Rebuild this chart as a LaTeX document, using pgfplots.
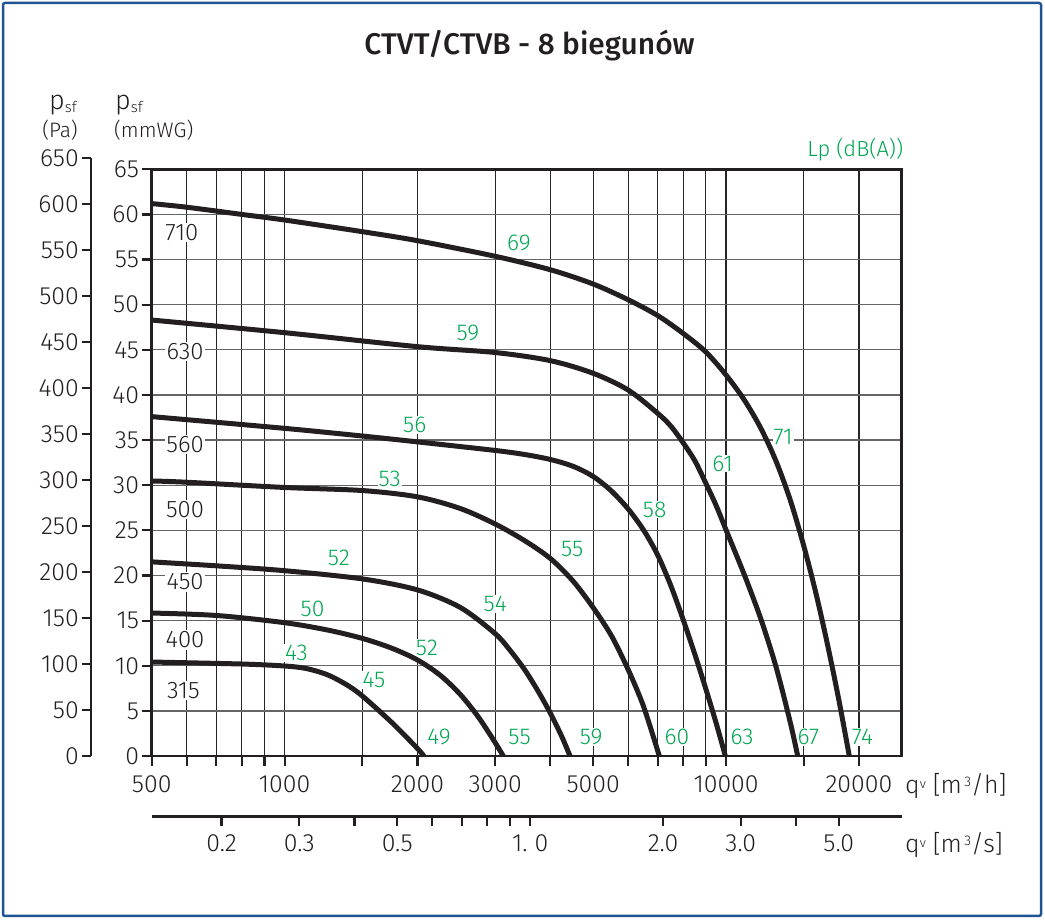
\documentclass[border=0pt]{standalone}
\usepackage{fontspec}
\setmainfont{Fira Sans Light}
\newfontfamily\titlefont{Fira Sans Medium}
\usepackage{pgfplots}
\pgfplotsset{compat=1.18}
\usepackage{pgfplotstable}
\definecolor{ink}{RGB}{35,31,32}
\definecolor{lpgreen}{RGB}{0,166,81}
\definecolor{frameblue}{RGB}{30,84,148}

% fan 315
\pgfplotstableread{
q p
500 10.41
800 10.19
1000 9.97
1120 9.69
1250 9.0
1381 7.9
1500 6.65
1750 3.7
2000 0.83
2067 0
}\dA
% fan 400
\pgfplotstableread{
q p
500 15.84
700 15.57
1000 14.77
1250 13.96
1500 13.03
1750 11.94
2000 10.64
2250 8.96
2500 6.82
2750 4.29
3000 1.47
3129 0
}\dB
% fan 450
\pgfplotstableread{
q p
500 21.51
700 21.07
1000 20.53
1500 19.62
2000 18.4
2500 16.46
3000 13.55
3250 11.64
3500 9.54
3750 7.2
4000 4.74
4250 2.1
4431 0
}\dC
% fan 500
\pgfplotstableread{
q p
500 30.47
600 30.33
1000 29.75
1500 29.41
2000 28.71
2500 27.42
3000 25.7
3500 23.85
4000 21.88
4500 19.39
5000 16.44
5500 13.32
6000 9.58
6500 5.52
7060 0
}\dD
% fan 560
\pgfplotstableread{
q p
500 37.6
1000 36.3
1500 35.45
2000 34.8
3000 33.85
3500 33.4
4000 32.85
4500 32.1
5000 30.97
5500 29.36
6000 27.37
6500 25.05
7000 22.27
7500 18.86
8000 15.07
8500 11.25
9000 7.42
9500 3.62
9963 0
}\dE
% fan 630
\pgfplotstableread{
q p
500 48.3
1000 46.9
2000 45.35
3000 44.7
4000 43.8
5000 42.4
6000 40.55
7000 37.97
7500 36.54
8000 34.68
8500 32.7
9000 30.21
9500 27.73
10000 25.04
11000 20.08
12000 15.13
13000 9.75
14000 3.59
14530 0
}\dF
% fan 710
\pgfplotstableread{
q p
500 61.2
600 60.8
800 60.0
1000 59.38
1500 58.09
2000 57.09
3000 55.36
4000 53.87
5000 52.29
6000 50.55
7000 48.8
8000 46.81
9000 44.76
10000 42.21
11000 39.44
12000 36.27
13000 32.58
14000 28.25
15000 23.27
16000 17.93
17000 12.21
18000 6.28
19020 0
}\dG

\newcommand\fs[1]{\fontsize{#1}{#1}\selectfont}

\tikzset{
  dlbl/.style={fill=white, inner sep=1.5bp, text=ink, font=\fs{24}},
  glbl/.style={fill=white, inner sep=1bp, text=lpgreen, font=\fs{23}},
  curve/.style={ink, line width=5bp},
}
\pgfplotsset{
  every outer x axis line/.append style={-},
  every outer y axis line/.append style={-},
  every inner x axis line/.append style={-},
  every inner y axis line/.append style={-},
}

\begin{document}
\begin{tikzpicture}
\path (0,0) rectangle (1045bp,920bp);
\draw[frameblue, line width=2.5bp, rounded corners=2bp] (3bp,4bp) rectangle (1041bp,917bp);

% title
\node[anchor=base, inner sep=0, text=ink] at (529.5bp,865bp) {\titlefont\fs{30}CTVT/CTVB - 8 biegunów};

% header labels
\node[anchor=base west, inner sep=0, text=ink] at (49bp,810bp) {\fs{27}p\raisebox{-3bp}{\fs{15}sf}};
\node[anchor=base, inner sep=0, text=ink] at (60bp,782bp) {\fs{21}(Pa)};
\node[anchor=base west, inner sep=0, text=ink] at (115bp,810bp) {\fs{27}p\raisebox{-3bp}{\fs{15}sf}};
\node[anchor=base west, inner sep=0, text=ink] at (114bp,782bp) {\fs{21}(mmWG)};
\node[anchor=base east, inner sep=0, text=lpgreen] at (903.3bp,763.3bp) {\fs{22}Lp (dB(A))};
\node[anchor=base west, inner sep=0, text=ink] at (905bp,126bp) {\fs{25}q\raisebox{5bp}{\fs{13}v}\ [m\raisebox{7bp}{\fs{14}\,3}/h]};
\node[anchor=base west, inner sep=0, text=ink] at (905bp,67bp) {\fs{25}q\raisebox{5bp}{\fs{13}v}\ [m\raisebox{7bp}{\fs{14}\,3}/s]};

% Pa axis
\begin{axis}[
  at={(91bp,164bp)}, anchor=south west, scale only axis,
  width=1bp, height=598.1bp,
  xmin=0, xmax=1, ymin=0, ymax=650,
  axis x line=none, axis y line=left,
  axis line style={-, ink, line width=2.6bp},
  ytick={0,50,100,150,200,250,300,350,400,450,500,550,600,650},
  yticklabels={0,50,100,150,200,250,300,350,400,450,500,550,600,650},
  tick align=outside, major tick length=9.5bp,
  tick style={ink, line width=2.2bp},
  yticklabel style={font=\fs{25}, text=ink, inner sep=2.5bp},
]
\end{axis}

% main axis
\begin{axis}[
  at={(151.7bp,164bp)}, anchor=south west, scale only axis,
  width=750bp, height=586.7bp,
  xmode=log, xmin=500, xmax=25000, ymin=0, ymax=65,
  xtick={500,600,700,800,900,1000,1500,2000,3000,4000,5000,6000,7000,8000,9000,10000,15000,20000},
  xticklabels={500,,,,,1000,,2000,3000,,5000,,,,,10000,,20000},
  xminorticks=false, yminorticks=false,
  ytick={0,5,10,15,20,25,30,35,40,45,50,55,60,65},
  yticklabels={0,5,10,15,20,25,30,35,40,45,50,55,60,65},
  tick pos=left, tick align=outside, major tick length=10bp,
  tick style={ink, line width=2.2bp},
  xmajorgrids, ymajorgrids,
  x grid style={black!85, line width=1.2bp},
  y grid style={black!60, line width=1.3bp},
  axis line style={ink, line width=2.6bp},
  tick label style={font=\fs{25}, text=ink},
  xticklabel style={yshift=-6bp},
  yticklabel style={inner sep=2.5bp},
  clip=false,
]
% diameter labels
\node[dlbl] at (axis cs:585,58.0) {710};
\node[dlbl] at (axis cs:595,44.8) {630};
\node[dlbl] at (axis cs:595,34.5) {560};
\node[dlbl] at (axis cs:595,27.3) {500};
\node[dlbl] at (axis cs:595,19.3) {450};
\node[dlbl] at (axis cs:595,12.85) {400};
\node[dlbl] at (axis cs:590,7.23) {315};
% sound level labels
\node[glbl] at (axis cs:3394,56.8) {69};
\node[glbl] at (axis cs:2602,46.9) {59};
\node[glbl] at (axis cs:1971,36.7) {56};
\node[glbl] at (axis cs:1730,30.7) {53};
\node[glbl] at (axis cs:1327,21.9) {52};
\node[glbl] at (axis cs:1157,16.3) {50};
\node[glbl] at (axis cs:1064,11.44) {43};
\node[glbl] at (axis cs:1594,8.42) {45};
\node[glbl] at (axis cs:2101,12.0) {52};
\node[glbl] at (axis cs:3000,16.8) {54};
\node[glbl] at (axis cs:4482,22.9) {55};
\node[glbl] at (axis cs:6891,27.3) {58};
\node[glbl] at (axis cs:9822,32.4) {61};
\node[glbl] at (axis cs:13470,35.3) {71};
\node[glbl] at (axis cs:2237,2.07) {49};
\node[glbl] at (axis cs:3406,2.07) {55};
\node[glbl] at (axis cs:4948,2.07) {59};
\node[glbl] at (axis cs:7745,2.07) {60};
\node[glbl] at (axis cs:10866,2.07) {63};
\node[glbl] at (axis cs:15370,2.07) {67};
\node[glbl] at (axis cs:20370,2.07) {74};
% curves
\addplot[curve, smooth, no markers] table[x=q,y=p]{\dA};
\addplot[curve, smooth, no markers] table[x=q,y=p]{\dB};
\addplot[curve, smooth, no markers] table[x=q,y=p]{\dC};
\addplot[curve, smooth, no markers] table[x=q,y=p]{\dD};
\addplot[curve, smooth, no markers] table[x=q,y=p]{\dE};
\addplot[curve, smooth, no markers] table[x=q,y=p]{\dF};
\addplot[curve, smooth, no markers] table[x=q,y=p]{\dG};
\end{axis}

% m3/s axis
\begin{axis}[
  at={(151.7bp,103.3bp)}, anchor=south west, scale only axis,
  width=750bp, height=1bp,
  xmode=log, xmin=0.1388889, xmax=6.944444, ymin=0, ymax=1,
  axis y line=none, axis x line=bottom,
  axis line style={-, ink, line width=2.6bp},
  xtick={0.2,0.3,0.4,0.5,0.6,0.7,0.8,0.9,1,2,3,4,5},
  xticklabels={0.2,0.3,,0.5,,,,,{1.\ 0},2.0,3.0,,5.0},
  xminorticks=false,
  tick align=outside, major tick length=9.5bp,
  tick style={ink, line width=2.2bp},
  xticklabel style={font=\fs{25}, text=ink, yshift=-5bp},
]
\end{axis}
\end{tikzpicture}
\end{document}
